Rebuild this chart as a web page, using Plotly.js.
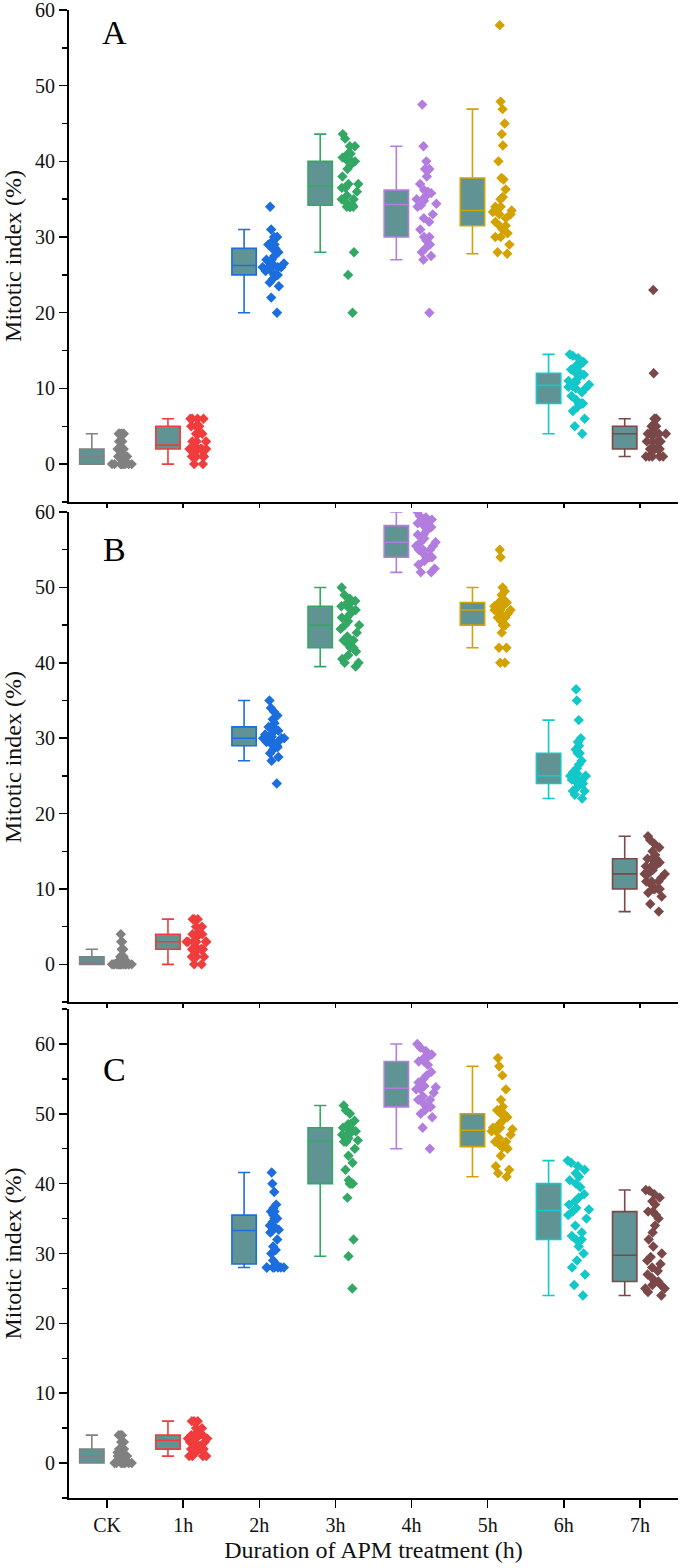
<!DOCTYPE html>
<html><head><meta charset="utf-8">
<script src="https://cdn.plot.ly/plotly-3.0.1.min.js"></script>
<style>html,body{margin:0;padding:0;background:#fff}</style>
</head><body>
<div id="chart" style="width:685px;height:1568px"></div>
<script>
const categories = ['CK','1h','2h','3h','4h','5h','6h','7h'];
const xTitle = 'Duration of APM treatment (h)';
const yTitle = 'Mitotic index (%)';

// Panel A
const a_ck = [0,0,0,0,0,0,0,0,0,1,1,1,1,1,1,1,1,2,2,2,2,2,2,3,3,4,4,4,4,4];
const a_1h = [0,0,1,1,1,1,2,2,2,2,2,2,2,2,2,3,3,3,4,4,4,5,5,5,5,5,6,6,6,6];
const a_2h = [20,22,23.5,24,24.5,25,25,25,25.5,25.5,26,26,26,26,26,26.5,26.5,27,27,27.5,28,28.5,28.5,29,29,29.5,30,30,31,34];
const a_3h = [20,25,28,34,34,34,34,34.2,34.5,35,35,35.5,36,36.5,36.5,37,37,38,39,39.5,40,40,40,40.5,41,41,42,42,43,43.6];
const a_4h = [20,27,27.5,28,28.5,29,29.5,30,30,31,32,32.5,33,34,34.2,34.4,34.8,35,35,35.5,35.8,36,36.2,37,38,39,39,40,42,47.5];
const a_5h = [27.8,28,29,30,30,30.5,31,31.5,31.5,32,32.5,33,33,33.3,33.5,33.5,34,34,35,35.3,36.3,37.6,37.8,40,42.1,43.6,45,46.9,47.9,58];
const a_6h = [4,5,6,7,7.5,8,8,8,8.5,9,9.5,10,10,10.2,10.3,10.5,10.8,11,11,11.5,11.8,12,12,12.5,13,13,13.5,14,14.3,14.5];
const a_7h = [1,1,1,1,1,2,2,2,2,2,3,3,3,3,4,4,4,4,4,4,4,5,5,5,5,6,6,6,12,23];

// Panel B
const b_ck = [0,0,0,0,0,0,0,0,0,0,0,0,0,0,0,0.5,0.5,0.5,0.5,1,1,1,1,1,1,2,2,3,3,4];
const b_1h = [0,0,1,1,1,2,2,2,2,2,2,2,3,3,3,3,3,3,3,4,4,4,4,4,4,5,5,6,6,6];
const b_2h = [24,27,27.5,28,28.5,28.8,29,29,29.2,29.5,29.5,29.8,30,30,30,30,30.2,30.5,30.5,31,31,31.2,31.5,31.5,32,32.5,33,33.5,34,35];
const b_3h = [39.5,40,40,40.5,41,41.5,42,42,42.5,43,43,43.5,44,44.5,45,45,45.5,46,46,46.5,47,47,47.5,47.5,48,48,48.2,48.5,49,50];
const b_4h = [52,52,52.5,53,53.5,54,54,54,54.5,55,55,55,55.5,55.5,56,56,56.5,57,57,57.5,58,58,58.2,58.5,58.5,59,59,59.3,59.5,60];
const b_5h = [40,40,42,42,44,45,45,45,45.5,46,46,46.5,46.5,47,47,47,47,47.5,47.5,47.5,48,48,48,48,48.5,49,49.5,50,54,55];
const b_6h = [22,22.5,23,23,23.5,24,24,24,24.2,24.5,24.5,24.8,25,25,25,25,25.3,25.5,26,26.5,27,28,28,28.5,29,29.5,30,32.4,35,36.5];
const b_7h = [7,8,9,9.5,10,10,10,10,10.5,11,11,11,11.5,12,12,12,12.5,13,13,13,13.5,14,14,14,14.5,15,15.5,16,16.5,17];

// Panel C
const c_ck = [0,0,0,0,0,0,0,0,0.5,1,1,1,1,1,1,1,1,1.5,2,2,2,2,2,2,3,3,3,4,4,4];
const c_1h = [1,1,1,1,1.5,2,2,2,2,2,2.5,3,3,3,3,3.5,3.5,3.5,4,4,4,4,4,4,4.5,5,5,6,6,6];
const c_2h = [28,28,28,28,28,28,28,28.5,29,30,30.5,31,32,33,33.2,33.4,34,34,34.5,35,35,35.3,35.5,36,36,36.5,37,38.8,40,41.6];
const c_3h = [25,29.6,32,38,40,40,40,40,40.5,42,43,44,45,46,46,46.2,46.5,47,47,47.2,47.5,47.8,48,48,48.5,48.5,49,50,50.5,51.2];
const c_4h = [45,48,49.5,50,50.5,51,51,51,51.5,52,52,52.5,53,53.5,53.5,53.8,54,54.5,55,55.5,56,57,57.5,57.5,58,58,58.5,59,59.5,60];
const c_5h = [41,41.5,42,42.5,44,45,45.2,45.3,45.5,46,46,46.5,47,47.5,47.5,47.8,48,48,48.5,49,49.5,50,50,50.5,51,52,53.5,55.5,56.8,58];
const c_6h = [24,25.5,27,28,29,30,31,32,32,32.5,33,34,35,35.5,36,36.3,36.5,37,37.5,38,38.5,39.5,40,40.5,41,41.5,42,42.5,43,43.3];
const c_7h = [24,24.5,25,25,25.5,25.5,26,26,26.5,27,27.5,28,28.5,29,29.5,30,31,32,33,34,35,35.5,36,36,37,37.5,38,38.5,39,39.1];

const panelA = [a_ck,a_1h,a_2h,a_3h,a_4h,a_5h,a_6h,a_7h];
const panelB = [b_ck,b_1h,b_2h,b_3h,b_4h,b_5h,b_6h,b_7h];
const panelC = [c_ck,c_1h,c_2h,c_3h,c_4h,c_5h,c_6h,c_7h];

// styles
const colors = ['#808080','#f03c3c','#1c6ddd','#33a865','#b27ddf','#d3a200','#12c8c8','#7a4848'];
const boxFill = 'rgb(96,148,148)';
const font = "'Liberation Serif', 'Times New Roman', serif";

const panels = [
  {data: panelA, xa:'x3', ya:'y3', label:'A', labelY:57},
  {data: panelB, xa:'x2', ya:'y2', label:'B', labelY:55},
  {data: panelC, xa:'x',  ya:'y',  label:'C', labelY:56.3}
];

const traces = [];
panels.forEach(p => {
  p.data.forEach((vals, i) => {
    const xs = vals.map(() => categories[i]);
    // box with 1.5 IQR whiskers (outlier markers hidden; they are drawn by the points trace)
    traces.push({type:'box', x:xs, y:vals, xaxis:p.xa, yaxis:p.ya, offsetgroup:'box',
      boxpoints:'outliers', marker:{opacity:0, size:1}, fillcolor:boxFill,
      line:{color:colors[i], width:1.6},
      whiskerwidth:0.5, showlegend:false, hoverinfo:'y'});
    // all sample points, jittered beside the box
    traces.push({type:'box', x:xs, y:vals, xaxis:p.xa, yaxis:p.ya, offsetgroup:'pts',
      boxpoints:'all', jitter:1, pointpos:0, fillcolor:'rgba(0,0,0,0)',
      line:{color:'rgba(0,0,0,0)', width:0},
      marker:{symbol:'diamond', size:8, color:colors[i]},
      showlegend:false, hoverinfo:'y'});
  });
});

const tickFont = {family:font, size:20, color:'#111'};
const titleFont = {family:font, size:24, color:'#111'};
const common = {showline:true, linecolor:'#000', linewidth:2, showgrid:false, zeroline:false,
  ticks:'outside', tickcolor:'#000', tickwidth:1.5, tickfont:tickFont, ticklabeloverflow:'allow'};
const xCommon = Object.assign({}, common, {type:'category', categoryorder:'array',
  categoryarray:categories, range:[-0.5,7.5], domain:[0,1]});
const yCommon = Object.assign({}, common, {tick0:0, dtick:10, ticklen:8,
  minor:{dtick:5, tick0:0, ticks:'outside', ticklen:5, tickcolor:'#000', tickwidth:1.5},
  title:{text:yTitle, font:titleFont, standoff:8}});

const layout = {
  width:685, height:1568,
  margin:{l:69, r:7, t:10, b:70},
  paper_bgcolor:'#fff', plot_bgcolor:'#fff',
  boxmode:'group', boxgap:0.2, boxgroupgap:0.2,
  showlegend:false,
  xaxis: Object.assign({}, xCommon, {anchor:'y', ticklen:8,
    title:{text:xTitle, font:titleFont, standoff:6}}),
  xaxis2: Object.assign({}, xCommon, {anchor:'y2', ticklen:4, showticklabels:false}),
  xaxis3: Object.assign({}, xCommon, {anchor:'y3', ticklen:4, showticklabels:false}),
  yaxis: Object.assign({}, yCommon, {anchor:'x', domain:[0,0.3286], range:[-5,65]}),
  yaxis2: Object.assign({}, yCommon, {anchor:'x2', domain:[0.3333,0.6626], range:[-5,60]}),
  yaxis3: Object.assign({}, yCommon, {anchor:'x3', domain:[0.6694,1], range:[-5,60]}),
  annotations: panels.map(p => ({xref:'paper', yref:p.ya, x:0.074, y:p.labelY, text:p.label,
    showarrow:false, xanchor:'center', yanchor:'middle', font:{family:font, size:34, color:'#000'}}))
};

Plotly.newPlot('chart', traces, layout, {displayModeBar:false, staticPlot:true});
</script>
</body></html>
